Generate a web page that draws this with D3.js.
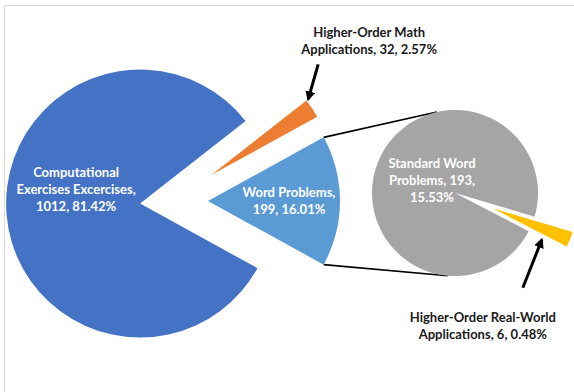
<!DOCTYPE html>
<html>
<head>
<meta charset="utf-8">
<script src="https://cdn.jsdelivr.net/npm/d3@7"></script>
<style>
  html, body { margin: 0; padding: 0; background: #fff; }
  svg { display: block; }
  text { font-family: Lato, "Open Sans", sans-serif; font-weight: bold; }
</style>
</head>
<body>
<script>
// ---- data ----
const categories = ["Higher-Order Math Applications", "Word Problems", "Computational Exercises Excercises"];
const values = [32, 199, 1012];
const percents = ["2.57%", "16.01%", "81.42%"];
const subCategories = ["Higher-Order Real-World Applications", "Standard Word Problems"];
const subValues = [6, 193];
const subPercents = ["0.48%", "15.53%"];
const mainLabelLines = [
  ["Higher-Order Math", `Applications, ${values[0]}, ${percents[0]}`],
  ["Word Problems,", `${values[1]}, ${percents[1]}`],
  ["Computational", "Exercises Excercises,", `${values[2]},  ${percents[2]}`]
];
const subLabelLines = [
  ["Higher-Order Real-World", `Applications, ${subValues[0]}, ${subPercents[0]}`],
  ["Standard Word", `Problems, ${subValues[1]},`, subPercents[1]]
];
const mainColors = ["#ED7D31", "#5B9BD5", "#4472C4"];
const subColors = ["#FFC000", "#A5A5A5"];

// ---- layout ----
const W = 574, H = 392;
const svg = d3.select("body").append("svg").attr("width", W).attr("height", H);
svg.append("rect").attr("width", W).attr("height", H).attr("fill", "#fff");
svg.append("path").attr("d", `M4.5,${H} V5.5 H${W}`)
  .attr("fill", "none").attr("stroke", "#d9d9d9").attr("stroke-width", 1);

const deg = Math.PI / 180;
const dir = a => [Math.sin(a), -Math.cos(a)];

// main pie
const cx = 172, cy = 201;
const radii = [121, 132, 134];
const explode = [47, 36, 32];
const total = d3.sum(values);
const start = Math.PI / 2 - (values[0] + values[1] / 2) / total * 2 * Math.PI;
const mainArcs = d3.pie().sort(null).startAngle(start).endAngle(start + 2 * Math.PI)(values);
mainArcs.forEach((d, i) => {
  const mid = (d.startAngle + d.endAngle) / 2;
  const [ux, uy] = dir(mid);
  d.vx = cx + ux * explode[i];
  d.vy = cy + uy * explode[i];
  d.r = radii[i];
  d.mid = mid;
});

// secondary pie
const scx = 455, scy = 193, sR = 83;
const subTotal = d3.sum(subValues);
const subCenterAngle = 112 * deg;
const subStart = subCenterAngle - (subValues[0] / 2) / subTotal * 2 * Math.PI;
const subExplode = [41, 0];
const subArcs = d3.pie().sort(null).startAngle(subStart).endAngle(subStart + 2 * Math.PI)(subValues);
subArcs.forEach((d, i) => {
  const mid = (d.startAngle + d.endAngle) / 2;
  const [ux, uy] = dir(mid);
  d.vx = scx + ux * subExplode[i];
  d.vy = scy + uy * subExplode[i];
  d.r = sR;
  d.mid = mid;
});

// connector lines (tangents from Word Problems slice corners to secondary pie)
const wp = mainArcs[1];
function corner(d, a) { const [ux, uy] = dir(a); return [d.vx + ux * d.r, d.vy + uy * d.r]; }
function tangent(P, sign) {
  const dx = scx - P[0], dy = scy - P[1];
  const dist = Math.hypot(dx, dy);
  const phi = Math.atan2(dy, dx);
  const alpha = Math.asin(sR / dist);
  const t = phi + sign * alpha;
  const L = Math.sqrt(dist * dist - sR * sR);
  return [P[0] + L * Math.cos(t), P[1] + L * Math.sin(t)];
}
const cTop = corner(wp, wp.startAngle), cBot = corner(wp, wp.endAngle);
[[cTop, tangent(cTop, -1)], [cBot, tangent(cBot, 1)]].forEach(([a, b]) => {
  svg.append("line").attr("x1", a[0]).attr("y1", a[1]).attr("x2", b[0]).attr("y2", b[1])
    .attr("stroke", "#000").attr("stroke-width", 1.6);
});

// draw slices
const drawArcs = (arcs, colors) => {
  svg.append("g").selectAll("path").data(arcs).join("path")
    .attr("transform", d => `translate(${d.vx},${d.vy})`)
    .attr("d", d => d3.arc().innerRadius(0).outerRadius(d.r)(d))
    .attr("fill", (d, i) => colors[i]);
};
drawArcs(subArcs, subColors);
drawArcs(mainArcs, mainColors);

// arrows
const defs = svg.append("defs");
defs.append("marker").attr("id", "ah").attr("viewBox", "0 0 10 10")
  .attr("refX", 8).attr("refY", 5).attr("markerWidth", 10).attr("markerHeight", 10)
  .attr("markerUnits", "userSpaceOnUse").attr("orient", "auto")
  .append("path").attr("d", "M0,0 L10,5 L0,10 z").attr("fill", "#000");

function arrow(tip, tail) {
  svg.append("line").attr("x1", tail[0]).attr("y1", tail[1]).attr("x2", tip[0]).attr("y2", tip[1])
    .attr("stroke", "#000").attr("stroke-width", 3).attr("marker-end", "url(#ah)");
}
const orange = mainArcs[0];
const oMid = corner(orange, orange.mid);
const tip1 = [oMid[0] - 4, oMid[1] - 9];
const tail1 = [tip1[0] + 10, tip1[1] - 35];
arrow(tip1, tail1);

const yellow = subArcs[0];
const yE = dir(yellow.endAngle);
const tip2 = [yellow.vx + yE[0] * 55, yellow.vy + yE[1] * 55 + 6];
const tail2 = [tip2[0] - 19, tip2[1] + 48];
arrow(tip2, tail2);

// labels
function label(lines, x, y, color, size) {
  const t = svg.append("text").attr("text-anchor", "middle").attr("fill", color)
    .attr("font-size", size);
  lines.forEach((s, i) => t.append("tspan").attr("x", x).attr("y", y + i * 17).text(s));
}
const comp = mainArcs[2];
label(mainLabelLines[2], comp.vx - 64, comp.vy - 27, "#fff", 13);
label(mainLabelLines[1], wp.vx + 81, wp.vy - 4, "#fff", 13);
label(subLabelLines[1], scx - 23, scy - 25, "#fff", 13);
label(mainLabelLines[0], tail1[0] + 51, tail1[1] - 27, "#1a1a1a", 13);
label(subLabelLines[0], tail2[0] - 40, tail2[1] + 34, "#1a1a1a", 13);
</script>
</body>
</html>
